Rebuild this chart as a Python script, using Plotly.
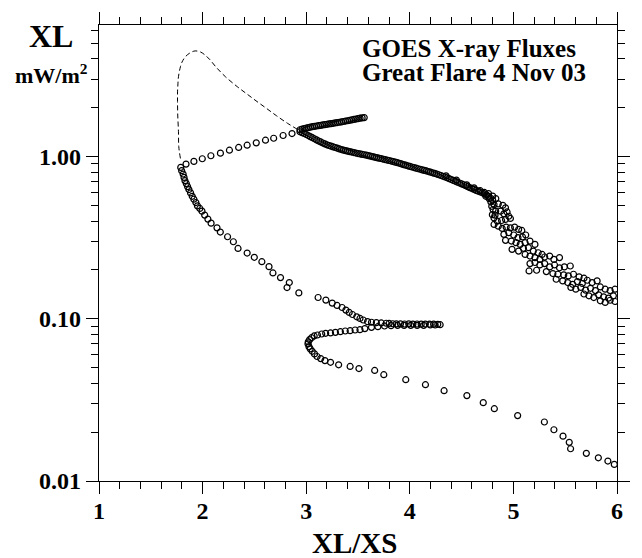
import plotly.graph_objects as go

# ---- GOES X-ray flux (XL, mW/m^2) vs. channel ratio XL/XS, 4 Nov 2003 ----

# Pre-flare / rise path: long tail from lower right, the small loop near 0.09,
# then the climb up to the turning point near XL/XS = 1.8
rise_ratio = [5.974, 5.912, 5.820, 5.704, 5.552, 5.539, 5.479, 5.391, 5.299, 5.041,
              4.816, 4.709, 4.551, 4.331, 4.151, 3.961, 3.749, 3.661, 3.509, 3.424,
              3.313, 3.235, 3.181, 3.140, 3.105, 3.080, 3.058, 3.039, 3.027, 3.017,
              3.020, 3.033, 3.052, 3.077, 3.109, 3.150, 3.188, 3.235, 3.282, 3.330,
              3.377, 3.424, 3.472, 3.519, 3.566, 3.630, 3.692, 3.756, 3.819, 3.882,
              3.945, 4.009, 4.071, 4.134, 4.198, 4.245, 4.293,
              4.270, 4.230, 4.190, 4.150, 4.110, 4.070, 4.030, 3.990, 3.950, 3.910,
              3.870, 3.835, 3.800, 3.772, 3.724, 3.677, 3.630, 3.592, 3.550, 3.519,
              3.488, 3.446, 3.415, 3.383, 3.346, 3.298, 3.251, 3.190, 3.115, 2.929,
              2.815, 2.837, 2.752, 2.679, 2.641, 2.572, 2.499, 2.430, 2.342, 2.297,
              2.241, 2.171, 2.139, 2.082, 2.051, 2.020, 1.994, 1.973, 1.950, 1.935,
              1.916, 1.900, 1.884, 1.868, 1.855, 1.843, 1.830, 1.821, 1.812, 1.798,
              1.789]
rise_flux = [0.01266, 0.01327, 0.0139, 0.0148, 0.0158, 0.0173, 0.0189, 0.0207, 0.0231, 0.0253,
             0.0279, 0.0304, 0.0336, 0.0360, 0.0392, 0.0421, 0.0452, 0.0480, 0.0493, 0.0508,
             0.0520, 0.0539, 0.0552, 0.0568, 0.0585, 0.0607, 0.0630, 0.0652, 0.0673, 0.0700,
             0.0720, 0.0743, 0.0764, 0.0783, 0.0794, 0.0805, 0.0813, 0.0817, 0.0824, 0.0832,
             0.0840, 0.0844, 0.0852, 0.0856, 0.0869, 0.0885, 0.0893, 0.0902, 0.0906, 0.0910,
             0.0910, 0.0910, 0.0910, 0.0910, 0.0915, 0.0915, 0.0919,
             0.0924, 0.0926, 0.0925, 0.0927, 0.0926, 0.0928, 0.0927, 0.0929, 0.0928, 0.0930,
             0.0929, 0.0931, 0.0935, 0.0938, 0.0942, 0.0946, 0.0951, 0.0959, 0.0982, 0.1004,
             0.1028, 0.1062, 0.1093, 0.1130, 0.1173, 0.1207, 0.1248, 0.1302, 0.1351, 0.1443,
             0.1556, 0.1671, 0.1792, 0.1915, 0.2094, 0.2246, 0.2390, 0.2540, 0.2710, 0.2980,
             0.3200, 0.3420, 0.3630, 0.3880, 0.4110, 0.4350, 0.4600, 0.4780, 0.4960, 0.5200,
             0.5450, 0.5680, 0.5960, 0.6250, 0.6520, 0.6800, 0.7090, 0.7430, 0.7790, 0.8170,
             0.8560]

# Sparse branch from the turning point up to the peak of the decay phase
climb_ratio = [1.840, 1.916, 1.997, 2.080, 2.172, 2.259, 2.348, 2.430, 2.518, 2.607,
               2.686, 2.777, 2.863]
climb_flux = [0.897, 0.932, 0.968, 1.010, 1.048, 1.093, 1.136, 1.173, 1.213, 1.259,
              1.295, 1.346, 1.384]

# Saturated interval, drawn as a dashed curve
sat_ratio = [1.786, 1.770, 1.767, 1.760, 1.758, 1.758, 1.762, 1.767, 1.786, 1.800,
             1.833, 1.880, 1.928, 1.980, 2.023, 2.070, 2.127, 2.220, 2.335, 2.430,
             2.525, 2.620, 2.714, 2.820, 2.922]
sat_flux = [0.972, 1.15, 1.42, 1.80, 2.18, 2.50, 2.80, 3.10, 3.57, 3.80,
            4.11, 4.35, 4.47, 4.40, 4.22, 3.95, 3.57, 3.10, 2.69, 2.42,
            2.18, 1.97, 1.78, 1.60, 1.46]

# Short spur leaving the peak towards higher ratio
spur_ratio = [2.94, 2.96, 2.98, 3.00, 3.02, 3.04, 3.06, 3.08, 3.10, 3.12,
              3.14, 3.16, 3.18, 3.20, 3.22, 3.24, 3.26, 3.28, 3.30, 3.32,
              3.34, 3.36, 3.38, 3.40, 3.42, 3.44, 3.46, 3.48, 3.50, 3.52,
              3.54, 3.56]
spur_flux = [1.460, 1.475, 1.485, 1.495, 1.505, 1.515, 1.525, 1.530, 1.540, 1.548,
             1.555, 1.563, 1.570, 1.578, 1.587, 1.594, 1.600, 1.610, 1.618, 1.625,
             1.633, 1.642, 1.652, 1.660, 1.670, 1.680, 1.690, 1.700, 1.710, 1.720,
             1.728, 1.735]

# Main decay track
decay_ratio = [2.94, 2.96, 2.98, 3.00, 3.02, 3.04, 3.06, 3.08, 3.10, 3.12,
               3.14, 3.16, 3.18, 3.20, 3.22, 3.24, 3.26, 3.28, 3.30, 3.32,
               3.34, 3.36, 3.38, 3.40, 3.42, 3.44, 3.46, 3.48, 3.50, 3.52,
               3.54, 3.56, 3.58, 3.60, 3.62, 3.64, 3.66, 3.68, 3.70, 3.72,
               3.74, 3.76, 3.78, 3.80, 3.82, 3.84, 3.86, 3.88, 3.90, 3.92,
               3.94, 3.96, 3.98, 4.00, 4.02, 4.04, 4.06, 4.08, 4.10, 4.12,
               4.14, 4.16, 4.18, 4.20, 4.22, 4.24, 4.26, 4.28, 4.30, 4.32,
               4.34, 4.36, 4.38, 4.40, 4.42, 4.44, 4.46, 4.48, 4.50, 4.52,
               4.54, 4.56, 4.58, 4.60, 4.62, 4.64, 4.66, 4.68, 4.70, 4.72,
               4.74, 4.76, 4.78, 4.80,
               4.35, 4.45, 4.55, 4.62, 4.68, 4.72, 4.76, 4.80, 4.83]
decay_flux = [1.420, 1.400, 1.385, 1.365, 1.345, 1.325, 1.305, 1.285, 1.265, 1.245,
              1.228, 1.210, 1.195, 1.180, 1.168, 1.157, 1.146, 1.135, 1.124, 1.113,
              1.103, 1.094, 1.086, 1.078, 1.071, 1.064, 1.057, 1.049, 1.042, 1.036,
              1.030, 1.024, 1.018, 1.012, 1.005, 0.998, 0.991, 0.984, 0.977, 0.971,
              0.964, 0.957, 0.950, 0.944, 0.937, 0.930, 0.923, 0.915, 0.907, 0.899,
              0.891, 0.884, 0.876, 0.868, 0.861, 0.854, 0.847, 0.840, 0.834, 0.827,
              0.821, 0.814, 0.807, 0.800, 0.793, 0.786, 0.779, 0.771, 0.763, 0.755,
              0.747, 0.739, 0.730, 0.721, 0.712, 0.703, 0.694, 0.686, 0.678, 0.669,
              0.660, 0.651, 0.642, 0.634, 0.626, 0.618, 0.611, 0.604, 0.597, 0.589,
              0.580, 0.568, 0.553, 0.538,
              0.760, 0.715, 0.668, 0.640, 0.615, 0.600, 0.590, 0.570, 0.550]

# Late decay: noisy samples scattered down to the lower right
tail_ratio = [4.734, 4.766, 4.782, 4.791, 4.804, 4.797, 4.823,
              4.813, 4.854, 4.898, 4.924, 4.939, 4.829, 4.876, 4.908, 4.955, 4.813,
              4.845, 4.886, 4.924, 4.971, 4.813, 4.854, 4.892, 4.930, 4.971, 5.012,
              5.050, 5.081, 4.908, 4.955, 5.003, 5.044, 5.088, 5.119, 4.924, 4.980,
              5.025, 5.066, 5.113, 5.160, 5.208, 4.987, 5.050, 5.097, 5.145, 5.192,
              5.239, 5.277, 5.113, 5.160, 5.208, 5.255, 5.302, 5.350, 5.391, 5.445,
              5.160, 5.208, 5.255, 5.302, 5.350, 5.397, 5.445, 5.492, 5.549, 5.151,
              5.224, 5.318, 5.381, 5.429, 5.486, 5.530, 5.580, 5.634, 5.681, 5.413,
              5.476, 5.524, 5.571, 5.618, 5.665, 5.713, 5.760, 5.808, 5.555, 5.602,
              5.650, 5.697, 5.744, 5.792, 5.839, 5.886, 5.934, 5.981, 5.681, 5.729,
              5.776, 5.823, 5.871, 5.918, 5.965, 5.839, 5.886, 5.934, 5.981]
tail_flux = [0.568, 0.550, 0.525, 0.493, 0.471, 0.438, 0.435,
             0.505, 0.510, 0.500, 0.482, 0.455, 0.460, 0.460, 0.443, 0.428, 0.418,
             0.399, 0.403, 0.409, 0.415, 0.381, 0.372, 0.360, 0.367, 0.363, 0.367,
             0.355, 0.350, 0.331, 0.339, 0.328, 0.316, 0.319, 0.328, 0.304, 0.301,
             0.294, 0.287, 0.294, 0.301, 0.287, 0.2676, 0.261, 0.2714, 0.274, 0.261,
             0.255, 0.249, 0.249, 0.2434, 0.238, 0.232, 0.240, 0.2434, 0.232, 0.238,
             0.2186, 0.222, 0.2145, 0.2186, 0.2086, 0.2145, 0.206, 0.2086, 0.2113, 0.197,
             0.1989, 0.1951, 0.1898, 0.188, 0.1862, 0.1836, 0.188, 0.181, 0.1777, 0.1751,
             0.171, 0.1671, 0.163, 0.1694, 0.1648, 0.1726, 0.1671, 0.171, 0.156, 0.152,
             0.156, 0.150, 0.154, 0.149, 0.157, 0.152, 0.149, 0.152, 0.142, 0.1384,
             0.135, 0.1403, 0.1365, 0.1339, 0.1384, 0.129, 0.126, 0.130, 0.1277]

# Axis ticks
x_ticks = [1, 2, 3, 4, 5, 6]
y_ticks = [0.01, 0.1, 1.0]
y_tick_text = ["0.01", "0.10", "1.00"]
y_minor = [0.02, 0.03, 0.04, 0.05, 0.06, 0.07, 0.08, 0.09,
           0.2, 0.3, 0.4, 0.5, 0.6, 0.7, 0.8, 0.9,
           2, 3, 4, 5, 6]

SERIF = "Liberation Serif"
circle = dict(symbol="circle-open", size=6, color="black", line=dict(width=1.2, color="black"))

fig = go.Figure()
fig.add_trace(go.Scatter(x=sat_ratio, y=sat_flux, mode="lines", line_shape="spline",
                         line=dict(color="black", width=1, dash="5px,3px"),
                         hoverinfo="skip", showlegend=False))
for xs, ys in [(rise_ratio, rise_flux), (climb_ratio, climb_flux), (spur_ratio, spur_flux),
               (decay_ratio, decay_flux), (tail_ratio, tail_flux)]:
    fig.add_trace(go.Scatter(x=xs, y=ys, mode="markers", marker=circle, showlegend=False))

axis_common = dict(
    showline=True, linecolor="black", linewidth=1.3, mirror="ticks",
    ticks="outside", ticklen=12, tickwidth=1.3, tickcolor="black",
    showgrid=False, zeroline=False,
    tickfont=dict(family=SERIF, size=24, color="black", weight="bold"),
)

fig.update_xaxes(range=[1, 6], tickmode="array", tickvals=x_ticks,
                 ticktext=[str(v) for v in x_ticks], ticklabelstandoff=-4,
                 minor=dict(tick0=1, dtick=0.2, ticks="outside", ticklen=7,
                            tickwidth=1.3, tickcolor="black", showgrid=False),
                 **axis_common)
fig.update_yaxes(type="log", range=[-2, 0.81], tickmode="array", tickvals=y_ticks,
                 ticktext=y_tick_text,
                 minor=dict(tickmode="array", tickvals=y_minor, ticks="outside", ticklen=7,
                            tickwidth=1.3, tickcolor="black", showgrid=False),
                 **axis_common)

def label(text, x, y, size, xanchor="center"):
    fig.add_annotation(text=text, xref="paper", yref="paper", x=x, y=y,
                       xanchor=xanchor, yanchor="middle", showarrow=False,
                       font=dict(family=SERIF, size=size, color="black", weight="bold"))

label("XL", -0.0928, 0.976, 32)
label("mW/m<sup>2</sup>", -0.0909, 0.893, 22)
label("GOES X-ray Fluxes", 0.5038, 0.9487, 25, xanchor="left")
label("Great Flare 4 Nov 03", 0.5038, 0.8963, 25, xanchor="left")
label("XL/XS", 0.494, -0.1354, 29)

fig.update_layout(
    width=642, height=558, autosize=False,
    margin=dict(l=99, r=15, t=23, b=77),
    paper_bgcolor="white", plot_bgcolor="white",
    showlegend=False,
)

fig.write_html("out.html")
